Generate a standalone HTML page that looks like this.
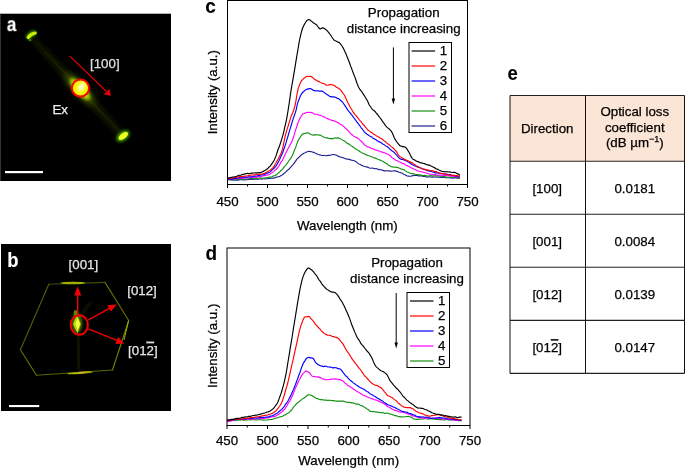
<!DOCTYPE html>
<html><head><meta charset="utf-8"><style>
html,body{margin:0;padding:0;background:#fff;width:685px;height:468px;overflow:hidden}
svg{display:block;will-change:transform}
text{font-family:"Liberation Sans", sans-serif;stroke:#000;stroke-width:0.25px}
</style></head><body>
<svg width="685" height="468" viewBox="0 0 685 468" font-size="13.3">
<defs>
<filter id="blur05" x="-50%" y="-50%" width="200%" height="200%"><feGaussianBlur stdDeviation="0.35"/></filter>
<filter id="blur1" x="-50%" y="-50%" width="200%" height="200%"><feGaussianBlur stdDeviation="0.6"/></filter>
<filter id="blur2" x="-50%" y="-50%" width="200%" height="200%"><feGaussianBlur stdDeviation="1.5"/></filter>
<filter id="blur3" x="-50%" y="-50%" width="200%" height="200%"><feGaussianBlur stdDeviation="3"/></filter>
<filter id="blur4" x="-50%" y="-50%" width="200%" height="200%"><feGaussianBlur stdDeviation="4"/></filter>
</defs>
<rect x="0" y="14" width="1" height="167" fill="#333"/>
<rect x="0" y="13" width="171" height="1" fill="#b0b0b0"/>
<rect x="1" y="14" width="170" height="167" fill="#000"/>
<defs><linearGradient id="rodg" gradientUnits="userSpaceOnUse" x1="32" y1="38" x2="122" y2="135"><stop offset="0" stop-color="#0e1400"/><stop offset="0.3" stop-color="#182000"/><stop offset="0.5" stop-color="#2c3a00"/><stop offset="0.75" stop-color="#1a2200"/><stop offset="1" stop-color="#141a00"/></linearGradient></defs>
<g filter="url(#blur3)"><line x1="32" y1="38" x2="122" y2="135" stroke="url(#rodg)" stroke-width="6"/></g>
<g filter="url(#blur1)"><line x1="36" y1="42" x2="119" y2="131" stroke="url(#rodg)" stroke-width="1.5"/></g>
<g filter="url(#blur3)"><ellipse cx="80" cy="89" rx="20" ry="6" transform="rotate(47 80 89)" fill="#3a5000"/></g>
<g filter="url(#blur2)"><ellipse cx="80" cy="89" rx="14" ry="5" transform="rotate(47 80 89)" fill="#a8cc00"/></g>
<g filter="url(#blur1)"><ellipse cx="80.5" cy="88" rx="8" ry="8" fill="#f4f400"/></g>
<g filter="url(#blur2)"><ellipse cx="81.5" cy="87" rx="3" ry="5" transform="rotate(30 81.5 87)" fill="#ffffd0"/></g>
<g filter="url(#blur2)"><path d="M28,38.5 Q30,33.5 35.5,32.5" stroke="#40a000" stroke-width="5" fill="none"/></g>
<g filter="url(#blur1)"><path d="M28.2,37.5 Q30.5,34 35.2,33" stroke="#c8f000" stroke-width="3.2" fill="none" stroke-linecap="round"/></g>
<g filter="url(#blur1)"><ellipse cx="30" cy="40" rx="1.6" ry="1.2" fill="#3a7000"/></g>
<g filter="url(#blur2)"><ellipse cx="123" cy="136" rx="7.5" ry="4.5" transform="rotate(-36 123 136)" fill="#40a000"/></g>
<g filter="url(#blur1)"><ellipse cx="123.3" cy="136" rx="5.5" ry="2.8" transform="rotate(-36 123.3 136)" fill="#f0ff20"/></g>
<circle cx="80.5" cy="88" r="8.6" fill="none" stroke="#ff0000" stroke-width="2"/>
<line x1="69.6" y1="55.9" x2="106.5" y2="91.5" stroke="#e00000" stroke-width="1.3"/>
<path d="M111,95.8 L103.6,94.6 L109.6,89 Z" fill="#e00000"/>
<text x="90" y="67.7" fill="#e0e0e0" style="stroke:#e0e0e0">[100]</text>
<text x="52.4" y="114" fill="#f0f0f0" style="stroke:#f0f0f0">Ex</text>
<text transform="translate(6.8,31.6) scale(0.9,1.08)" font-weight="bold" font-size="19" fill="#fff" style="stroke:#fff;stroke-width:0.1px">a</text>
<rect x="5" y="171" width="38" height="2.2" fill="#fff"/>
<rect x="1" y="244" width="170" height="167" fill="#000"/>
<g filter="url(#blur05)">
<line x1="48.8" y1="284.3" x2="105" y2="282.4" stroke="#444c00" stroke-width="1.1" stroke-linecap="round"/>
<line x1="105" y1="282.4" x2="128.7" y2="320.5" stroke="#687200" stroke-width="1.1" stroke-linecap="round"/>
<line x1="128.7" y1="320.5" x2="112.5" y2="370" stroke="#788400" stroke-width="1.1" stroke-linecap="round"/>
<line x1="112.5" y1="370" x2="36.4" y2="375.3" stroke="#5a6400" stroke-width="1.1" stroke-linecap="round"/>
<line x1="36.4" y1="375.3" x2="20.4" y2="349.7" stroke="#687200" stroke-width="1.1" stroke-linecap="round"/>
<line x1="20.4" y1="349.7" x2="48.8" y2="284.3" stroke="#56600a" stroke-width="1.1" stroke-linecap="round"/>
</g>
<g filter="url(#blur1)"><ellipse cx="73" cy="283.0" rx="12.5" ry="1.3" fill="#a0b000"/></g>
<g filter="url(#blur1)"><ellipse cx="80" cy="372.8" rx="13" ry="1.15" transform="rotate(-4 80 372.8)" fill="#a8b800"/></g>
<g filter="url(#blur1)"><ellipse cx="82" cy="372.6" rx="4" ry="0.7" transform="rotate(-4 82 372.6)" fill="#e8a830"/></g>
<g filter="url(#blur1)"><line x1="124" y1="340" x2="128.5" y2="321" stroke="#a0b000" stroke-width="1"/></g>
<g filter="url(#blur2)"><line x1="78" y1="334" x2="79" y2="370" stroke="#182000" stroke-width="2.5"/></g>
<g filter="url(#blur2)"><path d="M82,316 Q86,306 92,302" stroke="#182000" stroke-width="2" fill="none"/></g>
<g filter="url(#blur2)"><ellipse cx="77" cy="323" rx="5" ry="10" fill="#5a7800"/></g>
<g filter="url(#blur1)"><ellipse cx="75.5" cy="313" rx="1.8" ry="3" fill="#5a8a00"/></g>
<g filter="url(#blur1)"><path d="M77,315 L80.8,324 L77.5,333.5 L73,324 Z" fill="#b8d800"/></g>
<g filter="url(#blur05)"><path d="M77.5,318 L80,324 L77.5,330 L75.5,324 Z" fill="#f0ff40"/></g>
<ellipse cx="79.3" cy="325" rx="8.6" ry="9.8" fill="none" stroke="#f00000" stroke-width="2"/>
<line x1="77.7" y1="314.5" x2="77.7" y2="294" stroke="#f00000" stroke-width="1.4"/>
<path d="M77.7,286.3 L81.3,295.5 L74.2,295.5 Z" fill="#f00000"/>
<line x1="88.3" y1="319.8" x2="110" y2="308.2" stroke="#f00000" stroke-width="1.4"/>
<path d="M116.7,304.5 L107.3,305.2 L110.9,311.6 Z" fill="#f00000"/>
<line x1="88.3" y1="328.8" x2="117" y2="340.4" stroke="#f00000" stroke-width="1.4"/>
<path d="M124.4,343.5 L115.3,343.9 L118.1,337.0 Z" fill="#f00000"/>
<text x="68.6" y="268.5" fill="#e6e6e6" style="stroke:#e6e6e6">[001]</text>
<text x="127.2" y="295.0" fill="#e6e6e6" style="stroke:#e6e6e6">[012]</text>
<text x="128.1" y="354.8" fill="#e6e6e6" style="stroke:#e6e6e6">[01<tspan text-decoration="overline">2</tspan>]</text>
<text transform="translate(7.3,267) scale(0.97,1.06)" font-weight="bold" font-size="19" fill="#fff" style="stroke:#fff;stroke-width:0.1px">b</text>
<rect x="9" y="405" width="30.2" height="2.1" fill="#fff"/>
<path d="M227.50,179.82 L228.20,179.86 L228.90,179.80 L229.60,179.75 L230.30,179.77 L231.00,179.82 L231.70,180.03 L232.40,180.16 L233.10,180.02 L233.80,179.98 L234.50,180.12 L235.20,180.17 L235.90,180.07 L236.60,179.99 L237.30,180.08 L238.00,180.10 L238.70,179.94 L239.40,179.82 L240.10,179.72 L240.80,179.65 L241.50,179.70 L242.20,179.78 L242.90,179.82 L243.60,179.91 L244.30,179.94 L245.00,179.71 L245.70,179.48 L246.40,179.58 L247.10,179.73 L247.80,179.64 L248.50,179.47 L249.20,179.42 L249.90,179.39 L250.60,179.45 L251.30,179.53 L252.00,179.42 L252.70,179.41 L253.40,179.44 L254.10,179.29 L254.80,179.23 L255.50,179.24 L256.20,179.13 L256.90,179.00 L257.60,179.12 L258.30,179.14 L259.00,178.98 L259.70,179.01 L260.40,178.99 L261.10,178.98 L261.80,179.15 L262.50,179.00 L263.20,178.73 L263.90,178.76 L264.60,178.82 L265.30,178.77 L266.00,178.74 L266.70,178.71 L267.40,178.76 L268.10,178.72 L268.80,178.51 L269.50,178.39 L270.20,178.34 L270.90,178.23 L271.60,178.07 L272.30,178.02 L273.00,178.10 L273.70,178.18 L274.40,178.00 L275.10,177.60 L275.80,177.43 L276.50,177.29 L277.20,176.93 L277.90,176.75 L278.60,176.72 L279.30,176.62 L280.00,176.29 L280.70,175.80 L281.40,175.35 L282.10,175.01 L282.80,174.61 L283.50,173.93 L284.20,173.28 L284.90,172.74 L285.60,172.10 L286.30,171.40 L287.00,170.72 L287.70,170.11 L288.40,169.53 L289.10,168.94 L289.80,168.19 L290.50,167.36 L291.20,166.58 L291.90,165.81 L292.60,165.06 L293.30,164.23 L294.00,163.29 L294.70,162.36 L295.40,161.47 L296.10,160.39 L296.80,159.39 L297.50,158.63 L298.20,157.86 L298.90,157.30 L299.60,156.76 L300.30,155.88 L301.00,155.16 L301.70,154.72 L302.40,154.23 L303.10,153.69 L303.80,153.29 L304.50,153.05 L305.20,152.70 L305.90,152.27 L306.60,152.03 L307.30,151.80 L308.00,151.55 L308.70,151.42 L309.40,151.39 L310.10,151.49 L310.80,151.61 L311.50,151.73 L312.20,151.95 L312.90,152.18 L313.60,152.34 L314.30,152.69 L315.00,153.04 L315.70,153.28 L316.40,153.62 L317.10,153.92 L317.80,154.25 L318.50,154.56 L319.20,154.84 L319.90,154.94 L320.60,154.99 L321.30,155.35 L322.00,155.55 L322.70,155.46 L323.40,155.43 L324.10,155.45 L324.80,155.55 L325.50,155.70 L326.20,155.68 L326.90,155.61 L327.60,155.53 L328.30,155.37 L329.00,155.32 L329.70,155.35 L330.40,155.22 L331.10,155.04 L331.80,154.79 L332.50,154.55 L333.20,154.48 L333.90,154.54 L334.60,154.68 L335.30,154.87 L336.00,155.04 L336.70,155.23 L337.40,155.71 L338.10,156.22 L338.80,156.37 L339.50,156.54 L340.20,157.00 L340.90,157.28 L341.60,157.31 L342.30,157.50 L343.00,157.69 L343.70,157.91 L344.40,158.34 L345.10,158.62 L345.80,158.75 L346.50,158.92 L347.20,159.14 L347.90,159.27 L348.60,159.35 L349.30,159.39 L350.00,159.61 L350.70,159.95 L351.40,160.08 L352.10,160.20 L352.80,160.36 L353.50,160.48 L354.20,160.74 L354.90,161.07 L355.60,161.38 L356.30,161.81 L357.00,162.44 L357.70,163.12 L358.40,163.66 L359.10,164.04 L359.80,164.27 L360.50,164.58 L361.20,165.13 L361.90,165.49 L362.60,165.67 L363.30,165.97 L364.00,166.29 L364.70,166.55 L365.40,166.70 L366.10,166.87 L366.80,167.06 L367.50,167.16 L368.20,167.41 L368.90,167.69 L369.60,167.95 L370.30,168.23 L371.00,168.22 L371.70,167.98 L372.40,168.03 L373.10,168.33 L373.80,168.44 L374.50,168.63 L375.20,168.77 L375.90,168.61 L376.60,168.68 L377.30,169.06 L378.00,169.31 L378.70,169.44 L379.40,169.58 L380.10,169.64 L380.80,169.77 L381.50,170.04 L382.20,170.16 L382.90,170.33 L383.60,170.67 L384.30,170.88 L385.00,170.91 L385.70,170.84 L386.40,170.79 L387.10,170.78 L387.80,170.84 L388.50,170.92 L389.20,170.94 L389.90,171.02 L390.60,171.19 L391.30,171.19 L392.00,171.01 L392.70,171.02 L393.40,171.04 L394.10,170.90 L394.80,170.79 L395.50,170.91 L396.20,171.18 L396.90,171.34 L397.60,171.53 L398.30,171.88 L399.00,172.29 L399.70,172.44 L400.40,172.53 L401.10,172.84 L401.80,172.99 L402.50,173.19 L403.20,173.88 L403.90,174.53 L404.60,174.76 L405.30,174.88 L406.00,175.29 L406.70,175.79 L407.40,176.02 L408.10,176.11 L408.80,176.19 L409.50,176.24 L410.20,176.28 L410.90,176.20 L411.60,175.96 L412.30,175.77 L413.00,175.69 L413.70,175.63 L414.40,175.53 L415.10,175.35 L415.80,175.31 L416.50,175.31 L417.20,175.38 L417.90,175.72 L418.60,175.84 L419.30,175.76 L420.00,175.89 L420.70,175.86 L421.40,175.77 L422.10,176.05 L422.80,176.33 L423.50,176.38 L424.20,176.41 L424.90,176.54 L425.60,176.77 L426.30,176.94 L427.00,176.93 L427.70,176.96 L428.40,177.02 L429.10,176.89 L429.80,176.70 L430.50,176.76 L431.20,177.07 L431.90,177.22 L432.60,177.17 L433.30,177.12 L434.00,177.05 L434.70,177.01 L435.40,176.97 L436.10,176.98 L436.80,177.12 L437.50,177.28 L438.20,177.24 L438.90,177.09 L439.60,177.02 L440.30,177.16 L441.00,177.42 L441.70,177.45 L442.40,177.36 L443.10,177.30 L443.80,177.32 L444.50,177.53 L445.20,177.71 L445.90,177.69 L446.60,177.69 L447.30,177.79 L448.00,177.78 L448.70,177.72 L449.40,177.78 L450.10,177.92 L450.80,178.01 L451.50,178.00 L452.20,178.12 L452.90,178.21 L453.60,178.02 L454.30,177.92 L455.00,177.99 L455.70,177.95 L456.40,177.90 L457.10,178.12 L457.80,178.26 L458.50,178.08 L459.20,177.89 L459.90,177.86" fill="none" stroke="#20208e" stroke-width="1.15" stroke-linejoin="round"/>
<path d="M227.50,179.56 L228.20,179.38 L228.90,179.43 L229.60,179.58 L230.30,179.56 L231.00,179.68 L231.70,179.76 L232.40,179.62 L233.10,179.65 L233.80,179.68 L234.50,179.45 L235.20,179.20 L235.90,179.14 L236.60,179.33 L237.30,179.54 L238.00,179.41 L238.70,179.12 L239.40,179.01 L240.10,179.08 L240.80,179.14 L241.50,179.12 L242.20,179.12 L242.90,179.09 L243.60,179.00 L244.30,178.98 L245.00,178.98 L245.70,178.96 L246.40,179.07 L247.10,179.17 L247.80,179.03 L248.50,178.74 L249.20,178.58 L249.90,178.55 L250.60,178.39 L251.30,178.42 L252.00,178.69 L252.70,178.72 L253.40,178.47 L254.10,178.28 L254.80,178.29 L255.50,178.39 L256.20,178.60 L256.90,178.73 L257.60,178.48 L258.30,178.17 L259.00,178.09 L259.70,178.16 L260.40,178.12 L261.10,178.03 L261.80,178.00 L262.50,178.02 L263.20,178.17 L263.90,178.25 L264.60,178.10 L265.30,177.91 L266.00,177.83 L266.70,177.72 L267.40,177.58 L268.10,177.43 L268.80,177.20 L269.50,177.13 L270.20,177.18 L270.90,177.04 L271.60,176.87 L272.30,176.59 L273.00,176.11 L273.70,175.85 L274.40,175.76 L275.10,175.49 L275.80,175.13 L276.50,174.76 L277.20,174.14 L277.90,173.35 L278.60,172.78 L279.30,172.33 L280.00,171.57 L280.70,170.77 L281.40,170.29 L282.10,169.71 L282.80,168.86 L283.50,167.87 L284.20,166.86 L284.90,166.10 L285.60,165.44 L286.30,164.54 L287.00,163.56 L287.70,162.56 L288.40,161.51 L289.10,160.49 L289.80,159.64 L290.50,158.71 L291.20,157.52 L291.90,156.34 L292.60,154.81 L293.30,152.99 L294.00,151.26 L294.70,149.62 L295.40,147.96 L296.10,146.09 L296.80,144.17 L297.50,142.32 L298.20,140.53 L298.90,139.06 L299.60,138.10 L300.30,137.06 L301.00,135.89 L301.70,134.99 L302.40,134.25 L303.10,133.77 L303.80,133.62 L304.50,133.48 L305.20,133.33 L305.90,133.10 L306.60,132.96 L307.30,132.86 L308.00,132.84 L308.70,133.15 L309.40,133.61 L310.10,134.12 L310.80,134.50 L311.50,134.74 L312.20,134.92 L312.90,135.06 L313.60,135.07 L314.30,134.94 L315.00,134.83 L315.70,134.82 L316.40,134.91 L317.10,134.79 L317.80,134.70 L318.50,134.95 L319.20,135.11 L319.90,135.08 L320.60,135.27 L321.30,135.67 L322.00,136.12 L322.70,136.60 L323.40,136.92 L324.10,137.25 L324.80,137.56 L325.50,137.71 L326.20,137.84 L326.90,137.88 L327.60,137.86 L328.30,138.13 L329.00,138.52 L329.70,138.60 L330.40,138.58 L331.10,138.62 L331.80,138.61 L332.50,138.68 L333.20,138.65 L333.90,138.28 L334.60,137.96 L335.30,137.88 L336.00,137.92 L336.70,138.10 L337.40,138.09 L338.10,137.87 L338.80,137.93 L339.50,138.41 L340.20,138.77 L340.90,138.94 L341.60,139.37 L342.30,139.87 L343.00,140.30 L343.70,140.65 L344.40,141.00 L345.10,141.41 L345.80,142.05 L346.50,142.84 L347.20,143.34 L347.90,143.61 L348.60,143.88 L349.30,144.28 L350.00,144.88 L350.70,145.47 L351.40,145.95 L352.10,146.34 L352.80,146.73 L353.50,147.26 L354.20,147.87 L354.90,148.54 L355.60,149.05 L356.30,149.28 L357.00,149.62 L357.70,150.12 L358.40,150.57 L359.10,151.02 L359.80,151.46 L360.50,151.89 L361.20,152.38 L361.90,152.80 L362.60,153.14 L363.30,153.43 L364.00,153.67 L364.70,153.99 L365.40,154.37 L366.10,154.74 L366.80,155.11 L367.50,155.34 L368.20,155.52 L368.90,155.80 L369.60,156.01 L370.30,156.29 L371.00,156.51 L371.70,156.69 L372.40,157.10 L373.10,157.48 L373.80,157.69 L374.50,157.90 L375.20,158.12 L375.90,158.35 L376.60,158.64 L377.30,158.95 L378.00,159.20 L378.70,159.43 L379.40,159.80 L380.10,160.14 L380.80,160.37 L381.50,160.67 L382.20,160.96 L382.90,161.20 L383.60,161.69 L384.30,162.22 L385.00,162.67 L385.70,163.10 L386.40,163.50 L387.10,164.03 L387.80,164.65 L388.50,165.14 L389.20,165.43 L389.90,165.73 L390.60,166.26 L391.30,166.74 L392.00,166.93 L392.70,166.90 L393.40,166.94 L394.10,167.21 L394.80,167.21 L395.50,167.14 L396.20,167.35 L396.90,167.43 L397.60,167.50 L398.30,167.84 L399.00,168.17 L399.70,168.29 L400.40,168.55 L401.10,169.01 L401.80,169.26 L402.50,169.37 L403.20,169.54 L403.90,169.83 L404.60,170.31 L405.30,170.88 L406.00,171.33 L406.70,171.73 L407.40,172.07 L408.10,172.28 L408.80,172.59 L409.50,172.96 L410.20,173.24 L410.90,173.47 L411.60,173.57 L412.30,173.68 L413.00,173.82 L413.70,173.82 L414.40,173.95 L415.10,174.29 L415.80,174.50 L416.50,174.49 L417.20,174.46 L417.90,174.61 L418.60,174.76 L419.30,174.73 L420.00,174.77 L420.70,175.10 L421.40,175.43 L422.10,175.47 L422.80,175.43 L423.50,175.56 L424.20,175.53 L424.90,175.35 L425.60,175.53 L426.30,175.80 L427.00,175.93 L427.70,176.03 L428.40,175.97 L429.10,175.83 L429.80,175.81 L430.50,175.78 L431.20,175.68 L431.90,175.72 L432.60,175.93 L433.30,175.99 L434.00,175.80 L434.70,175.70 L435.40,175.81 L436.10,175.88 L436.80,175.87 L437.50,175.83 L438.20,175.70 L438.90,175.70 L439.60,175.89 L440.30,176.13 L441.00,176.17 L441.70,176.03 L442.40,176.15 L443.10,176.41 L443.80,176.44 L444.50,176.56 L445.20,176.90 L445.90,177.10 L446.60,177.08 L447.30,177.12 L448.00,177.21 L448.70,177.26 L449.40,177.26 L450.10,177.13 L450.80,177.11 L451.50,177.22 L452.20,177.29 L452.90,177.41 L453.60,177.39 L454.30,177.31 L455.00,177.35 L455.70,177.46 L456.40,177.51 L457.10,177.42 L457.80,177.47 L458.50,177.76 L459.20,177.98 L459.90,177.89" fill="none" stroke="#119011" stroke-width="1.15" stroke-linejoin="round"/>
<path d="M227.50,179.42 L228.20,179.48 L228.90,179.51 L229.60,179.28 L230.30,179.09 L231.00,179.15 L231.70,179.13 L232.40,178.89 L233.10,178.67 L233.80,178.72 L234.50,178.85 L235.20,178.79 L235.90,178.75 L236.60,178.80 L237.30,178.76 L238.00,178.66 L238.70,178.56 L239.40,178.41 L240.10,178.29 L240.80,178.31 L241.50,178.41 L242.20,178.29 L242.90,178.09 L243.60,178.04 L244.30,178.08 L245.00,178.00 L245.70,177.74 L246.40,177.64 L247.10,177.87 L247.80,178.12 L248.50,177.97 L249.20,177.73 L249.90,177.79 L250.60,177.80 L251.30,177.53 L252.00,177.40 L252.70,177.49 L253.40,177.44 L254.10,177.28 L254.80,177.23 L255.50,177.38 L256.20,177.36 L256.90,177.13 L257.60,176.83 L258.30,176.58 L259.00,176.61 L259.70,176.62 L260.40,176.56 L261.10,176.46 L261.80,176.16 L262.50,175.94 L263.20,175.92 L263.90,175.80 L264.60,175.61 L265.30,175.45 L266.00,175.15 L266.70,174.93 L267.40,174.97 L268.10,174.88 L268.80,174.72 L269.50,174.48 L270.20,173.88 L270.90,173.27 L271.60,172.89 L272.30,172.53 L273.00,172.15 L273.70,171.59 L274.40,170.91 L275.10,170.30 L275.80,169.64 L276.50,168.99 L277.20,168.27 L277.90,167.36 L278.60,166.35 L279.30,165.20 L280.00,163.91 L280.70,162.65 L281.40,161.64 L282.10,160.73 L282.80,159.54 L283.50,158.08 L284.20,156.47 L284.90,154.95 L285.60,153.59 L286.30,152.09 L287.00,150.56 L287.70,149.20 L288.40,147.92 L289.10,146.67 L289.80,145.39 L290.50,144.06 L291.20,142.90 L291.90,141.65 L292.60,139.87 L293.30,137.75 L294.00,135.56 L294.70,133.14 L295.40,130.70 L296.10,128.59 L296.80,126.48 L297.50,124.24 L298.20,122.22 L298.90,120.49 L299.60,118.96 L300.30,117.60 L301.00,116.52 L301.70,115.48 L302.40,114.39 L303.10,113.71 L303.80,113.49 L304.50,113.32 L305.20,113.15 L305.90,112.82 L306.60,112.46 L307.30,112.40 L308.00,112.37 L308.70,112.37 L309.40,112.48 L310.10,112.41 L310.80,112.40 L311.50,112.61 L312.20,112.77 L312.90,113.06 L313.60,113.48 L314.30,113.90 L315.00,114.23 L315.70,114.27 L316.40,114.28 L317.10,114.48 L317.80,114.68 L318.50,114.90 L319.20,115.19 L319.90,115.24 L320.60,115.34 L321.30,115.73 L322.00,116.02 L322.70,116.24 L323.40,116.55 L324.10,116.88 L324.80,117.27 L325.50,117.71 L326.20,118.08 L326.90,118.41 L327.60,118.67 L328.30,118.88 L329.00,119.23 L329.70,119.60 L330.40,119.81 L331.10,120.06 L331.80,120.47 L332.50,120.60 L333.20,120.53 L333.90,120.70 L334.60,121.11 L335.30,121.45 L336.00,121.72 L336.70,122.03 L337.40,122.38 L338.10,122.73 L338.80,123.04 L339.50,123.48 L340.20,124.15 L340.90,124.62 L341.60,124.79 L342.30,125.17 L343.00,125.86 L343.70,126.57 L344.40,127.14 L345.10,127.81 L345.80,128.53 L346.50,129.10 L347.20,129.78 L347.90,130.48 L348.60,131.10 L349.30,131.91 L350.00,132.86 L350.70,133.70 L351.40,134.27 L352.10,134.74 L352.80,135.43 L353.50,136.13 L354.20,136.56 L354.90,136.81 L355.60,137.14 L356.30,137.58 L357.00,137.86 L357.70,138.13 L358.40,138.71 L359.10,139.42 L359.80,140.02 L360.50,140.59 L361.20,141.22 L361.90,141.92 L362.60,142.59 L363.30,143.46 L364.00,144.43 L364.70,144.98 L365.40,145.37 L366.10,145.92 L366.80,146.50 L367.50,146.89 L368.20,146.98 L368.90,147.09 L369.60,147.48 L370.30,147.86 L371.00,148.19 L371.70,148.51 L372.40,148.72 L373.10,148.83 L373.80,148.99 L374.50,149.46 L375.20,149.91 L375.90,150.05 L376.60,150.16 L377.30,150.47 L378.00,150.76 L378.70,150.83 L379.40,151.06 L380.10,151.46 L380.80,151.72 L381.50,151.89 L382.20,152.12 L382.90,152.35 L383.60,152.58 L384.30,152.74 L385.00,152.91 L385.70,153.30 L386.40,153.64 L387.10,153.80 L387.80,154.15 L388.50,154.57 L389.20,154.93 L389.90,155.41 L390.60,156.02 L391.30,156.87 L392.00,157.73 L392.70,158.21 L393.40,158.54 L394.10,159.02 L394.80,159.48 L395.50,159.95 L396.20,160.34 L396.90,160.60 L397.60,161.00 L398.30,161.44 L399.00,161.81 L399.70,162.02 L400.40,162.23 L401.10,162.65 L401.80,163.06 L402.50,163.38 L403.20,163.68 L403.90,163.83 L404.60,164.11 L405.30,164.72 L406.00,165.20 L406.70,165.47 L407.40,165.83 L408.10,166.21 L408.80,166.41 L409.50,166.67 L410.20,167.17 L410.90,167.59 L411.60,167.90 L412.30,168.32 L413.00,168.60 L413.70,168.93 L414.40,169.45 L415.10,169.68 L415.80,169.79 L416.50,170.18 L417.20,170.67 L417.90,170.92 L418.60,171.01 L419.30,171.26 L420.00,171.47 L420.70,171.59 L421.40,171.80 L422.10,171.97 L422.80,172.07 L423.50,172.26 L424.20,172.51 L424.90,172.67 L425.60,172.78 L426.30,173.02 L427.00,173.34 L427.70,173.53 L428.40,173.74 L429.10,173.94 L429.80,174.14 L430.50,174.26 L431.20,174.22 L431.90,174.28 L432.60,174.49 L433.30,174.78 L434.00,174.75 L434.70,174.43 L435.40,174.50 L436.10,174.84 L436.80,175.01 L437.50,175.02 L438.20,175.00 L438.90,175.08 L439.60,175.15 L440.30,175.19 L441.00,175.13 L441.70,175.02 L442.40,175.13 L443.10,175.28 L443.80,175.41 L444.50,175.41 L445.20,175.40 L445.90,175.51 L446.60,175.49 L447.30,175.44 L448.00,175.53 L448.70,175.78 L449.40,176.05 L450.10,176.15 L450.80,176.18 L451.50,176.27 L452.20,176.28 L452.90,176.32 L453.60,176.50 L454.30,176.60 L455.00,176.54 L455.70,176.55 L456.40,176.66 L457.10,176.71 L457.80,176.81 L458.50,176.98 L459.20,177.06 L459.90,177.13" fill="none" stroke="#ff00ff" stroke-width="1.15" stroke-linejoin="round"/>
<path d="M227.50,179.02 L228.20,179.07 L228.90,179.04 L229.60,179.04 L230.30,179.13 L231.00,179.11 L231.70,179.07 L232.40,178.89 L233.10,178.59 L233.80,178.51 L234.50,178.54 L235.20,178.48 L235.90,178.36 L236.60,178.16 L237.30,177.97 L238.00,177.88 L238.70,177.82 L239.40,177.88 L240.10,177.83 L240.80,177.71 L241.50,177.73 L242.20,177.64 L242.90,177.36 L243.60,177.17 L244.30,177.10 L245.00,177.00 L245.70,177.15 L246.40,177.29 L247.10,177.14 L247.80,176.98 L248.50,176.86 L249.20,176.82 L249.90,176.78 L250.60,176.73 L251.30,176.81 L252.00,176.82 L252.70,176.60 L253.40,176.34 L254.10,176.20 L254.80,176.18 L255.50,176.15 L256.20,176.07 L256.90,176.03 L257.60,175.86 L258.30,175.49 L259.00,175.42 L259.70,175.47 L260.40,175.23 L261.10,174.99 L261.80,174.81 L262.50,174.64 L263.20,174.72 L263.90,174.83 L264.60,174.46 L265.30,173.88 L266.00,173.55 L266.70,173.44 L267.40,173.24 L268.10,172.80 L268.80,172.47 L269.50,172.30 L270.20,171.88 L270.90,171.18 L271.60,170.42 L272.30,169.77 L273.00,169.09 L273.70,168.44 L274.40,167.87 L275.10,167.07 L275.80,166.21 L276.50,165.32 L277.20,164.02 L277.90,162.63 L278.60,161.52 L279.30,160.24 L280.00,158.59 L280.70,157.02 L281.40,155.48 L282.10,153.94 L282.80,152.29 L283.50,150.27 L284.20,148.27 L284.90,146.30 L285.60,144.11 L286.30,141.81 L287.00,139.44 L287.70,137.12 L288.40,134.75 L289.10,132.22 L289.80,129.87 L290.50,127.60 L291.20,125.32 L291.90,122.98 L292.60,120.59 L293.30,118.42 L294.00,116.52 L294.70,114.51 L295.40,112.40 L296.10,110.07 L296.80,106.98 L297.50,103.66 L298.20,101.40 L298.90,99.84 L299.60,98.03 L300.30,96.29 L301.00,94.83 L301.70,93.64 L302.40,92.72 L303.10,92.03 L303.80,91.44 L304.50,90.80 L305.20,90.17 L305.90,89.72 L306.60,89.41 L307.30,89.11 L308.00,88.93 L308.70,88.84 L309.40,88.68 L310.10,88.62 L310.80,88.79 L311.50,89.12 L312.20,89.54 L312.90,90.04 L313.60,90.43 L314.30,90.61 L315.00,90.81 L315.70,90.81 L316.40,90.70 L317.10,90.72 L317.80,90.82 L318.50,90.93 L319.20,91.08 L319.90,91.22 L320.60,91.11 L321.30,91.01 L322.00,91.17 L322.70,91.40 L323.40,91.90 L324.10,92.54 L324.80,92.92 L325.50,93.20 L326.20,93.82 L326.90,94.54 L327.60,94.90 L328.30,95.25 L329.00,95.86 L329.70,96.40 L330.40,96.60 L331.10,96.66 L331.80,96.82 L332.50,96.92 L333.20,96.87 L333.90,96.91 L334.60,97.07 L335.30,97.23 L336.00,97.49 L336.70,97.98 L337.40,98.39 L338.10,98.55 L338.80,98.85 L339.50,99.39 L340.20,100.02 L340.90,100.69 L341.60,101.27 L342.30,101.93 L343.00,102.75 L343.70,103.79 L344.40,104.91 L345.10,105.87 L345.80,106.81 L346.50,107.94 L347.20,109.16 L347.90,110.22 L348.60,111.11 L349.30,111.91 L350.00,112.65 L350.70,113.67 L351.40,114.68 L352.10,115.37 L352.80,116.30 L353.50,117.37 L354.20,118.25 L354.90,119.17 L355.60,120.20 L356.30,121.21 L357.00,122.05 L357.70,122.87 L358.40,123.85 L359.10,124.78 L359.80,125.71 L360.50,126.76 L361.20,127.79 L361.90,128.67 L362.60,129.49 L363.30,130.47 L364.00,131.43 L364.70,132.26 L365.40,132.95 L366.10,133.46 L366.80,134.05 L367.50,134.60 L368.20,135.00 L368.90,135.49 L369.60,135.95 L370.30,136.26 L371.00,136.56 L371.70,137.03 L372.40,137.65 L373.10,138.23 L373.80,138.65 L374.50,138.95 L375.20,139.26 L375.90,139.68 L376.60,140.18 L377.30,140.66 L378.00,141.23 L378.70,141.74 L379.40,141.92 L380.10,142.10 L380.80,142.48 L381.50,142.90 L382.20,143.47 L382.90,144.15 L383.60,144.48 L384.30,144.75 L385.00,145.37 L385.70,145.92 L386.40,146.19 L387.10,146.54 L387.80,147.09 L388.50,147.73 L389.20,148.39 L389.90,149.05 L390.60,149.68 L391.30,150.30 L392.00,150.91 L392.70,151.33 L393.40,151.75 L394.10,152.47 L394.80,153.23 L395.50,153.92 L396.20,154.71 L396.90,155.39 L397.60,156.19 L398.30,157.17 L399.00,157.90 L399.70,158.43 L400.40,158.95 L401.10,159.31 L401.80,159.35 L402.50,159.32 L403.20,159.61 L403.90,159.93 L404.60,160.16 L405.30,160.55 L406.00,160.88 L406.70,160.97 L407.40,161.30 L408.10,161.91 L408.80,162.22 L409.50,162.58 L410.20,163.27 L410.90,163.85 L411.60,164.31 L412.30,164.77 L413.00,165.02 L413.70,165.26 L414.40,165.70 L415.10,166.02 L415.80,166.19 L416.50,166.43 L417.20,166.86 L417.90,167.21 L418.60,167.32 L419.30,167.52 L420.00,167.72 L420.70,167.94 L421.40,168.32 L422.10,168.69 L422.80,168.95 L423.50,169.07 L424.20,169.16 L424.90,169.43 L425.60,169.82 L426.30,170.19 L427.00,170.47 L427.70,170.67 L428.40,170.96 L429.10,171.20 L429.80,171.18 L430.50,171.13 L431.20,171.26 L431.90,171.63 L432.60,172.03 L433.30,172.21 L434.00,172.42 L434.70,172.68 L435.40,172.86 L436.10,172.89 L436.80,172.81 L437.50,172.86 L438.20,172.99 L438.90,173.08 L439.60,173.13 L440.30,173.35 L441.00,173.48 L441.70,173.39 L442.40,173.47 L443.10,173.63 L443.80,173.84 L444.50,174.04 L445.20,174.13 L445.90,174.14 L446.60,174.17 L447.30,174.37 L448.00,174.51 L448.70,174.64 L449.40,174.61 L450.10,174.46 L450.80,174.70 L451.50,175.15 L452.20,175.43 L452.90,175.48 L453.60,175.43 L454.30,175.54 L455.00,175.95 L455.70,176.21 L456.40,176.14 L457.10,176.06 L457.80,176.17 L458.50,176.67 L459.20,177.08 L459.90,177.06" fill="none" stroke="#0000ff" stroke-width="1.15" stroke-linejoin="round"/>
<path d="M227.50,178.79 L228.20,178.60 L228.90,178.42 L229.60,178.37 L230.30,178.17 L231.00,178.07 L231.70,178.15 L232.40,178.13 L233.10,178.02 L233.80,177.82 L234.50,177.55 L235.20,177.40 L235.90,177.39 L236.60,177.24 L237.30,177.03 L238.00,176.95 L238.70,176.86 L239.40,176.67 L240.10,176.53 L240.80,176.54 L241.50,176.66 L242.20,176.80 L242.90,176.69 L243.60,176.30 L244.30,176.17 L245.00,176.24 L245.70,176.07 L246.40,176.00 L247.10,176.00 L247.80,175.70 L248.50,175.35 L249.20,175.27 L249.90,175.35 L250.60,175.24 L251.30,174.95 L252.00,174.89 L252.70,175.02 L253.40,174.96 L254.10,174.82 L254.80,174.83 L255.50,174.69 L256.20,174.43 L256.90,174.45 L257.60,174.51 L258.30,174.27 L259.00,174.06 L259.70,174.17 L260.40,174.38 L261.10,174.21 L261.80,173.97 L262.50,173.95 L263.20,173.71 L263.90,173.52 L264.60,173.39 L265.30,173.02 L266.00,172.49 L266.70,172.04 L267.40,171.73 L268.10,171.18 L268.80,170.79 L269.50,170.74 L270.20,170.36 L270.90,169.62 L271.60,168.88 L272.30,168.34 L273.00,167.79 L273.70,166.87 L274.40,165.65 L275.10,164.41 L275.80,163.20 L276.50,161.85 L277.20,160.68 L277.90,159.57 L278.60,158.20 L279.30,156.76 L280.00,155.42 L280.70,154.10 L281.40,152.47 L282.10,150.46 L282.80,147.87 L283.50,144.46 L284.20,140.94 L284.90,137.66 L285.60,134.74 L286.30,132.07 L287.00,129.61 L287.70,127.44 L288.40,125.28 L289.10,122.90 L289.80,120.61 L290.50,118.34 L291.20,116.16 L291.90,114.42 L292.60,113.00 L293.30,111.32 L294.00,109.06 L294.70,106.58 L295.40,103.76 L296.10,99.84 L296.80,95.52 L297.50,91.50 L298.20,88.59 L298.90,86.59 L299.60,84.75 L300.30,83.10 L301.00,81.73 L301.70,80.65 L302.40,79.80 L303.10,79.09 L303.80,78.45 L304.50,77.94 L305.20,77.41 L305.90,76.82 L306.60,76.48 L307.30,76.41 L308.00,76.49 L308.70,76.52 L309.40,76.31 L310.10,76.21 L310.80,76.39 L311.50,76.73 L312.20,77.33 L312.90,77.72 L313.60,78.24 L314.30,79.22 L315.00,79.73 L315.70,79.89 L316.40,80.33 L317.10,80.82 L317.80,81.15 L318.50,81.38 L319.20,81.74 L319.90,82.17 L320.60,82.50 L321.30,82.76 L322.00,83.06 L322.70,83.35 L323.40,83.54 L324.10,83.78 L324.80,84.09 L325.50,84.63 L326.20,85.18 L326.90,85.30 L327.60,85.27 L328.30,85.11 L329.00,84.83 L329.70,84.68 L330.40,84.56 L331.10,84.56 L331.80,84.74 L332.50,84.90 L333.20,84.99 L333.90,85.29 L334.60,85.78 L335.30,86.26 L336.00,86.86 L336.70,87.46 L337.40,87.76 L338.10,88.06 L338.80,88.53 L339.50,89.05 L340.20,89.66 L340.90,90.42 L341.60,91.30 L342.30,92.30 L343.00,93.32 L343.70,94.28 L344.40,95.25 L345.10,96.57 L345.80,98.19 L346.50,99.78 L347.20,101.29 L347.90,102.73 L348.60,104.00 L349.30,105.20 L350.00,106.65 L350.70,108.00 L351.40,109.02 L352.10,110.28 L352.80,111.52 L353.50,112.45 L354.20,113.45 L354.90,114.37 L355.60,115.16 L356.30,116.00 L357.00,116.80 L357.70,117.62 L358.40,118.53 L359.10,119.47 L359.80,120.39 L360.50,121.13 L361.20,121.92 L361.90,122.97 L362.60,123.85 L363.30,124.51 L364.00,125.25 L364.70,126.17 L365.40,127.17 L366.10,127.92 L366.80,128.56 L367.50,129.54 L368.20,130.29 L368.90,130.58 L369.60,131.15 L370.30,131.74 L371.00,132.24 L371.70,132.73 L372.40,133.06 L373.10,133.63 L373.80,134.25 L374.50,134.58 L375.20,134.93 L375.90,135.39 L376.60,135.91 L377.30,136.40 L378.00,136.74 L378.70,137.10 L379.40,137.50 L380.10,138.00 L380.80,138.33 L381.50,138.60 L382.20,139.19 L382.90,139.76 L383.60,140.40 L384.30,141.04 L385.00,141.35 L385.70,141.88 L386.40,142.66 L387.10,143.29 L387.80,143.87 L388.50,144.28 L389.20,144.66 L389.90,145.33 L390.60,146.09 L391.30,146.65 L392.00,147.11 L392.70,147.66 L393.40,148.25 L394.10,149.01 L394.80,149.89 L395.50,150.51 L396.20,151.23 L396.90,152.38 L397.60,153.67 L398.30,154.77 L399.00,155.62 L399.70,156.38 L400.40,156.92 L401.10,157.23 L401.80,157.69 L402.50,158.24 L403.20,158.57 L403.90,158.94 L404.60,159.36 L405.30,159.62 L406.00,159.98 L406.70,160.45 L407.40,160.67 L408.10,160.85 L408.80,161.24 L409.50,161.54 L410.20,161.79 L410.90,162.20 L411.60,162.54 L412.30,162.87 L413.00,163.46 L413.70,164.04 L414.40,164.43 L415.10,164.82 L415.80,165.37 L416.50,165.91 L417.20,166.27 L417.90,166.63 L418.60,167.05 L419.30,167.35 L420.00,167.81 L420.70,168.26 L421.40,168.40 L422.10,168.67 L422.80,169.06 L423.50,169.23 L424.20,169.42 L424.90,169.76 L425.60,169.89 L426.30,169.77 L427.00,169.86 L427.70,170.03 L428.40,170.11 L429.10,170.22 L429.80,170.38 L430.50,170.52 L431.20,170.58 L431.90,170.73 L432.60,170.85 L433.30,170.89 L434.00,171.16 L434.70,171.50 L435.40,171.59 L436.10,171.67 L436.80,171.89 L437.50,172.17 L438.20,172.57 L438.90,172.87 L439.60,172.97 L440.30,173.22 L441.00,173.49 L441.70,173.55 L442.40,173.59 L443.10,173.62 L443.80,173.71 L444.50,174.04 L445.20,174.35 L445.90,174.29 L446.60,174.22 L447.30,174.34 L448.00,174.55 L448.70,174.75 L449.40,174.97 L450.10,175.16 L450.80,175.23 L451.50,175.30 L452.20,175.35 L452.90,175.29 L453.60,175.24 L454.30,175.37 L455.00,175.55 L455.70,175.50 L456.40,175.54 L457.10,175.81 L457.80,175.92 L458.50,175.94 L459.20,176.04 L459.90,176.16" fill="none" stroke="#ff0000" stroke-width="1.15" stroke-linejoin="round"/>
<path d="M227.50,178.27 L228.20,177.95 L228.90,177.81 L229.60,177.82 L230.30,177.69 L231.00,177.44 L231.70,177.21 L232.40,177.05 L233.10,177.05 L233.80,176.96 L234.50,176.76 L235.20,176.74 L235.90,176.57 L236.60,176.28 L237.30,176.05 L238.00,175.67 L238.70,175.34 L239.40,175.26 L240.10,175.21 L240.80,175.08 L241.50,174.91 L242.20,174.65 L242.90,174.39 L243.60,174.29 L244.30,174.09 L245.00,173.93 L245.70,173.82 L246.40,173.60 L247.10,173.44 L247.80,173.44 L248.50,173.54 L249.20,173.60 L249.90,173.47 L250.60,173.23 L251.30,173.09 L252.00,173.11 L252.70,173.06 L253.40,172.98 L254.10,173.05 L254.80,172.95 L255.50,172.79 L256.20,172.88 L256.90,172.92 L257.60,172.84 L258.30,172.75 L259.00,172.65 L259.70,172.63 L260.40,172.49 L261.10,172.29 L261.80,172.16 L262.50,171.87 L263.20,171.41 L263.90,170.95 L264.60,170.62 L265.30,170.22 L266.00,169.69 L266.70,169.30 L267.40,168.84 L268.10,168.06 L268.80,167.23 L269.50,166.70 L270.20,166.11 L270.90,165.22 L271.60,164.19 L272.30,163.13 L273.00,162.19 L273.70,161.09 L274.40,159.64 L275.10,158.01 L275.80,156.38 L276.50,154.44 L277.20,152.23 L277.90,150.04 L278.60,148.24 L279.30,146.56 L280.00,144.48 L280.70,142.34 L281.40,140.19 L282.10,137.89 L282.80,135.63 L283.50,133.00 L284.20,129.82 L284.90,126.70 L285.60,123.81 L286.30,120.58 L287.00,116.85 L287.70,112.73 L288.40,108.29 L289.10,103.74 L289.80,99.06 L290.50,94.03 L291.20,89.35 L291.90,85.27 L292.60,81.46 L293.30,77.42 L294.00,73.19 L294.70,69.13 L295.40,64.95 L296.10,60.45 L296.80,56.05 L297.50,52.10 L298.20,48.00 L298.90,43.66 L299.60,39.75 L300.30,36.53 L301.00,33.65 L301.70,30.99 L302.40,28.80 L303.10,27.00 L303.80,25.48 L304.50,24.16 L305.20,23.05 L305.90,21.97 L306.60,20.88 L307.30,20.21 L308.00,19.79 L308.70,19.58 L309.40,19.70 L310.10,19.99 L310.80,20.60 L311.50,21.39 L312.20,21.85 L312.90,22.32 L313.60,23.02 L314.30,23.50 L315.00,23.85 L315.70,24.24 L316.40,24.74 L317.10,25.45 L317.80,26.51 L318.50,27.50 L319.20,28.29 L319.90,28.92 L320.60,28.85 L321.30,28.44 L322.00,28.14 L322.70,27.84 L323.40,27.93 L324.10,28.37 L324.80,28.73 L325.50,29.18 L326.20,29.83 L326.90,30.46 L327.60,31.17 L328.30,32.02 L329.00,32.96 L329.70,33.93 L330.40,34.75 L331.10,35.77 L331.80,37.01 L332.50,37.99 L333.20,38.98 L333.90,39.98 L334.60,40.46 L335.30,40.74 L336.00,41.08 L336.70,41.36 L337.40,41.80 L338.10,42.15 L338.80,42.33 L339.50,42.81 L340.20,43.65 L340.90,44.52 L341.60,45.49 L342.30,46.53 L343.00,47.55 L343.70,48.90 L344.40,50.44 L345.10,52.00 L345.80,53.54 L346.50,55.14 L347.20,56.98 L347.90,58.81 L348.60,60.53 L349.30,62.31 L350.00,64.23 L350.70,66.16 L351.40,67.95 L352.10,69.86 L352.80,71.85 L353.50,73.75 L354.20,75.52 L354.90,77.14 L355.60,79.05 L356.30,81.23 L357.00,83.29 L357.70,85.09 L358.40,86.65 L359.10,87.99 L359.80,89.11 L360.50,90.05 L361.20,90.97 L361.90,91.94 L362.60,92.99 L363.30,94.10 L364.00,95.18 L364.70,96.27 L365.40,97.46 L366.10,98.59 L366.80,99.76 L367.50,101.00 L368.20,102.55 L368.90,104.24 L369.60,105.49 L370.30,106.49 L371.00,107.45 L371.70,108.48 L372.40,109.38 L373.10,109.97 L373.80,110.42 L374.50,110.93 L375.20,111.68 L375.90,112.63 L376.60,113.49 L377.30,114.24 L378.00,115.17 L378.70,116.11 L379.40,116.98 L380.10,117.99 L380.80,118.85 L381.50,119.70 L382.20,120.90 L382.90,121.98 L383.60,122.76 L384.30,123.70 L385.00,124.84 L385.70,125.78 L386.40,126.64 L387.10,127.34 L387.80,127.85 L388.50,128.44 L389.20,129.00 L389.90,129.60 L390.60,130.33 L391.30,131.25 L392.00,132.41 L392.70,133.86 L393.40,135.53 L394.10,137.31 L394.80,138.84 L395.50,139.91 L396.20,140.98 L396.90,142.05 L397.60,142.99 L398.30,143.83 L399.00,144.69 L399.70,145.53 L400.40,145.97 L401.10,146.08 L401.80,146.31 L402.50,146.61 L403.20,146.64 L403.90,146.67 L404.60,146.91 L405.30,147.29 L406.00,147.79 L406.70,148.66 L407.40,149.78 L408.10,150.90 L408.80,152.07 L409.50,153.32 L410.20,154.80 L410.90,156.13 L411.60,157.39 L412.30,158.58 L413.00,159.19 L413.70,159.50 L414.40,159.85 L415.10,160.27 L415.80,160.74 L416.50,161.12 L417.20,161.35 L417.90,161.61 L418.60,161.88 L419.30,162.19 L420.00,162.63 L420.70,162.84 L421.40,162.80 L422.10,162.99 L422.80,163.33 L423.50,163.54 L424.20,163.68 L424.90,163.86 L425.60,164.13 L426.30,164.47 L427.00,164.69 L427.70,164.87 L428.40,165.09 L429.10,165.18 L429.80,165.34 L430.50,165.75 L431.20,166.08 L431.90,166.36 L432.60,166.81 L433.30,167.14 L434.00,167.29 L434.70,167.76 L435.40,168.49 L436.10,168.89 L436.80,168.97 L437.50,169.17 L438.20,169.59 L438.90,169.96 L439.60,170.30 L440.30,170.69 L441.00,170.92 L441.70,171.20 L442.40,171.50 L443.10,171.53 L443.80,171.61 L444.50,171.78 L445.20,171.81 L445.90,171.73 L446.60,171.68 L447.30,171.79 L448.00,172.02 L448.70,171.97 L449.40,171.80 L450.10,171.93 L450.80,172.14 L451.50,172.30 L452.20,172.51 L452.90,172.50 L453.60,172.36 L454.30,172.34 L455.00,172.44 L455.70,172.71 L456.40,173.20 L457.10,173.71 L457.80,173.84 L458.50,173.99 L459.20,174.63 L459.90,175.37" fill="none" stroke="#000000" stroke-width="1.15" stroke-linejoin="round"/>
<rect x="227.5" y="0.5" width="240.0" height="184.0" fill="none" stroke="#000" stroke-width="1"/>
<line x1="227.50" y1="184.5" x2="227.50" y2="188.0" stroke="#000" stroke-width="1"/>
<text x="227.50" y="206" text-anchor="middle">450</text>
<line x1="247.50" y1="184.5" x2="247.50" y2="186.5" stroke="#000" stroke-width="1"/>
<line x1="267.50" y1="184.5" x2="267.50" y2="188.0" stroke="#000" stroke-width="1"/>
<text x="267.50" y="206" text-anchor="middle">500</text>
<line x1="287.50" y1="184.5" x2="287.50" y2="186.5" stroke="#000" stroke-width="1"/>
<line x1="307.50" y1="184.5" x2="307.50" y2="188.0" stroke="#000" stroke-width="1"/>
<text x="307.50" y="206" text-anchor="middle">550</text>
<line x1="327.50" y1="184.5" x2="327.50" y2="186.5" stroke="#000" stroke-width="1"/>
<line x1="347.50" y1="184.5" x2="347.50" y2="188.0" stroke="#000" stroke-width="1"/>
<text x="347.50" y="206" text-anchor="middle">600</text>
<line x1="367.50" y1="184.5" x2="367.50" y2="186.5" stroke="#000" stroke-width="1"/>
<line x1="387.50" y1="184.5" x2="387.50" y2="188.0" stroke="#000" stroke-width="1"/>
<text x="387.50" y="206" text-anchor="middle">650</text>
<line x1="407.50" y1="184.5" x2="407.50" y2="186.5" stroke="#000" stroke-width="1"/>
<line x1="427.50" y1="184.5" x2="427.50" y2="188.0" stroke="#000" stroke-width="1"/>
<text x="427.50" y="206" text-anchor="middle">700</text>
<line x1="447.50" y1="184.5" x2="447.50" y2="186.5" stroke="#000" stroke-width="1"/>
<line x1="467.50" y1="184.5" x2="467.50" y2="188.0" stroke="#000" stroke-width="1"/>
<text x="467.50" y="206" text-anchor="middle">750</text>
<text transform="translate(205.2,13.3) scale(1.0,1.065)" font-weight="bold" font-size="19" fill="#000" style="stroke:#000;stroke-width:0.1px">c</text>
<text transform="translate(216.6,92.2) rotate(-90)" text-anchor="middle">Intensity (a.u.)</text>
<text x="347.4" y="229.5" text-anchor="middle">Wavelength (nm)</text>
<text x="403.7" y="17.1" text-anchor="middle">Propagation</text>
<text x="403.7" y="32.6" text-anchor="middle">distance increasing</text>
<rect x="409" y="42.5" width="42.5" height="90.0" fill="#fff" stroke="#000" stroke-width="1"/>
<line x1="411.6" y1="51.00" x2="435.1" y2="51.00" stroke="#000000" stroke-width="1.2"/>
<text x="439.8" y="55.30">1</text>
<line x1="411.6" y1="66.00" x2="435.1" y2="66.00" stroke="#ff0000" stroke-width="1.2"/>
<text x="439.8" y="70.30">2</text>
<line x1="411.6" y1="81.00" x2="435.1" y2="81.00" stroke="#0000ff" stroke-width="1.2"/>
<text x="439.8" y="85.30">3</text>
<line x1="411.6" y1="96.00" x2="435.1" y2="96.00" stroke="#ff00ff" stroke-width="1.2"/>
<text x="439.8" y="100.30">4</text>
<line x1="411.6" y1="111.00" x2="435.1" y2="111.00" stroke="#119011" stroke-width="1.2"/>
<text x="439.8" y="115.30">5</text>
<line x1="411.6" y1="126.00" x2="435.1" y2="126.00" stroke="#20208e" stroke-width="1.2"/>
<text x="439.8" y="130.30">6</text>
<line x1="393.4" y1="47.4" x2="393.4" y2="100.5" stroke="#000" stroke-width="1"/>
<path d="M391.7,98.5 L395.09999999999997,98.5 L393.4,104.5 Z" fill="#000"/>
<path d="M227.00,420.69 L227.70,420.64 L228.40,420.71 L229.10,420.75 L229.80,420.63 L230.50,420.56 L231.20,420.59 L231.90,420.48 L232.60,420.29 L233.30,420.17 L234.00,420.23 L234.70,420.26 L235.40,420.12 L236.10,420.17 L236.80,420.25 L237.50,420.16 L238.20,420.05 L238.90,420.03 L239.60,420.20 L240.30,420.24 L241.00,419.96 L241.70,419.67 L242.40,419.74 L243.10,420.06 L243.80,420.16 L244.50,420.07 L245.20,419.97 L245.90,419.81 L246.60,419.75 L247.30,419.82 L248.00,419.76 L248.70,419.69 L249.40,419.90 L250.10,419.95 L250.80,419.65 L251.50,419.58 L252.20,419.72 L252.90,419.59 L253.60,419.51 L254.30,419.76 L255.00,419.84 L255.70,419.88 L256.40,420.04 L257.10,419.90 L257.80,419.72 L258.50,419.70 L259.20,419.63 L259.90,419.66 L260.60,419.77 L261.30,419.73 L262.00,419.81 L262.70,420.03 L263.40,420.06 L264.10,419.99 L264.80,419.95 L265.50,419.98 L266.20,420.01 L266.90,420.00 L267.60,419.97 L268.30,419.77 L269.00,419.57 L269.70,419.47 L270.40,419.49 L271.10,419.61 L271.80,419.51 L272.50,419.20 L273.20,418.97 L273.90,418.76 L274.60,418.48 L275.30,418.28 L276.00,418.10 L276.70,417.86 L277.40,417.77 L278.10,417.63 L278.80,417.31 L279.50,416.97 L280.20,416.86 L280.90,416.78 L281.60,416.48 L282.30,416.28 L283.00,415.96 L283.70,415.39 L284.40,415.01 L285.10,414.90 L285.80,414.57 L286.50,413.90 L287.20,413.47 L287.90,413.18 L288.60,412.81 L289.30,412.31 L290.00,411.57 L290.70,410.73 L291.40,410.01 L292.10,409.29 L292.80,408.17 L293.50,407.03 L294.20,406.29 L294.90,405.65 L295.60,404.90 L296.30,403.97 L297.00,403.18 L297.70,402.70 L298.40,402.18 L299.10,401.55 L299.80,401.03 L300.50,400.48 L301.20,399.88 L301.90,399.40 L302.60,398.89 L303.30,398.43 L304.00,398.01 L304.70,397.46 L305.40,397.02 L306.10,396.49 L306.80,395.73 L307.50,395.12 L308.20,394.81 L308.90,394.73 L309.60,394.76 L310.30,394.92 L311.00,395.17 L311.70,395.46 L312.40,395.80 L313.10,396.25 L313.80,396.85 L314.50,397.29 L315.20,397.66 L315.90,398.22 L316.60,398.46 L317.30,398.52 L318.00,398.81 L318.70,399.11 L319.40,399.55 L320.10,399.81 L320.80,399.66 L321.50,399.61 L322.20,399.72 L322.90,399.87 L323.60,400.05 L324.30,400.06 L325.00,400.04 L325.70,400.12 L326.40,400.11 L327.10,400.22 L327.80,400.44 L328.50,400.39 L329.20,400.22 L329.90,400.22 L330.60,400.34 L331.30,400.53 L332.00,400.60 L332.70,400.52 L333.40,400.65 L334.10,400.82 L334.80,400.86 L335.50,400.96 L336.20,401.06 L336.90,401.06 L337.60,401.06 L338.30,401.17 L339.00,401.12 L339.70,400.99 L340.40,401.12 L341.10,401.19 L341.80,401.14 L342.50,401.11 L343.20,401.16 L343.90,401.40 L344.60,401.66 L345.30,401.80 L346.00,401.93 L346.70,402.22 L347.40,402.34 L348.10,402.28 L348.80,402.30 L349.50,402.35 L350.20,402.44 L350.90,402.64 L351.60,402.85 L352.30,402.91 L353.00,402.94 L353.70,403.11 L354.40,403.31 L355.10,403.67 L355.80,404.05 L356.50,404.13 L357.20,404.05 L357.90,404.05 L358.60,404.21 L359.30,404.58 L360.00,405.02 L360.70,405.30 L361.40,405.54 L362.10,405.83 L362.80,406.26 L363.50,406.69 L364.20,406.95 L364.90,407.32 L365.60,407.91 L366.30,408.51 L367.00,408.92 L367.70,409.30 L368.40,409.75 L369.10,410.29 L369.80,411.02 L370.50,411.46 L371.20,411.44 L371.90,411.54 L372.60,411.60 L373.30,411.54 L374.00,411.65 L374.70,411.76 L375.40,411.94 L376.10,412.07 L376.80,411.96 L377.50,412.07 L378.20,412.23 L378.90,412.23 L379.60,412.40 L380.30,412.57 L381.00,412.62 L381.70,412.70 L382.40,412.65 L383.10,412.63 L383.80,413.02 L384.50,413.35 L385.20,413.33 L385.90,413.20 L386.60,413.08 L387.30,413.16 L388.00,413.31 L388.70,413.56 L389.40,413.86 L390.10,413.98 L390.80,414.07 L391.50,414.23 L392.20,414.59 L392.90,414.91 L393.60,415.05 L394.30,415.38 L395.00,415.70 L395.70,415.66 L396.40,415.65 L397.10,415.98 L397.80,416.46 L398.50,416.75 L399.20,416.66 L399.90,416.56 L400.60,416.71 L401.30,416.84 L402.00,416.84 L402.70,416.98 L403.40,416.99 L404.10,416.79 L404.80,416.72 L405.50,416.75 L406.20,416.63 L406.90,416.46 L407.60,416.46 L408.30,416.43 L409.00,416.47 L409.70,416.73 L410.40,416.96 L411.10,417.10 L411.80,417.34 L412.50,417.87 L413.20,418.57 L413.90,419.01 L414.60,419.19 L415.30,419.30 L416.00,419.31 L416.70,419.37 L417.40,419.36 L418.10,419.19 L418.80,419.14 L419.50,419.20 L420.20,419.10 L420.90,419.00 L421.60,419.02 L422.30,419.03 L423.00,419.02 L423.70,418.90 L424.40,418.79 L425.10,418.79 L425.80,418.75 L426.50,418.69 L427.20,418.77 L427.90,418.94 L428.60,419.06 L429.30,418.97 L430.00,418.74 L430.70,418.74 L431.40,418.89 L432.10,418.95 L432.80,418.94 L433.50,419.00 L434.20,419.16 L434.90,419.11 L435.60,419.11 L436.30,419.38 L437.00,419.46 L437.70,419.41 L438.40,419.47 L439.10,419.56 L439.80,419.69 L440.50,419.68 L441.20,419.62 L441.90,419.67 L442.60,419.75 L443.30,419.88 L444.00,419.94 L444.70,419.88 L445.40,419.60 L446.10,419.41 L446.80,419.56 L447.50,419.68 L448.20,419.88 L448.90,420.07 L449.60,419.98 L450.30,419.86 L451.00,419.84 L451.70,419.84 L452.40,419.79 L453.10,419.73 L453.80,419.83 L454.50,420.02 L455.20,420.11 L455.90,420.15 L456.60,420.17 L457.30,420.22 L458.00,420.37 L458.70,420.58 L459.40,420.77 L460.10,420.80 L460.80,420.79 L461.50,420.92" fill="none" stroke="#119011" stroke-width="1.15" stroke-linejoin="round"/>
<path d="M227.00,422.09 L227.70,421.74 L228.40,421.51 L229.10,421.49 L229.80,421.31 L230.50,420.95 L231.20,420.77 L231.90,420.74 L232.60,420.50 L233.30,420.18 L234.00,419.86 L234.70,419.52 L235.40,419.44 L236.10,419.55 L236.80,419.54 L237.50,419.33 L238.20,419.12 L238.90,419.06 L239.60,419.07 L240.30,419.11 L241.00,419.32 L241.70,419.58 L242.40,419.66 L243.10,419.41 L243.80,419.06 L244.50,418.75 L245.20,418.58 L245.90,418.78 L246.60,419.07 L247.30,419.20 L248.00,419.21 L248.70,419.15 L249.40,419.12 L250.10,419.18 L250.80,419.14 L251.50,418.90 L252.20,418.74 L252.90,418.83 L253.60,419.11 L254.30,419.21 L255.00,418.98 L255.70,418.76 L256.40,418.76 L257.10,418.78 L257.80,418.75 L258.50,418.75 L259.20,418.72 L259.90,418.69 L260.60,418.70 L261.30,418.62 L262.00,418.47 L262.70,418.38 L263.40,418.36 L264.10,418.36 L264.80,418.26 L265.50,418.13 L266.20,417.93 L266.90,417.80 L267.60,417.81 L268.30,417.71 L269.00,417.67 L269.70,417.50 L270.40,417.14 L271.10,416.99 L271.80,416.92 L272.50,416.74 L273.20,416.64 L273.90,416.63 L274.60,416.47 L275.30,416.19 L276.00,415.88 L276.70,415.51 L277.40,415.08 L278.10,414.71 L278.80,414.33 L279.50,413.76 L280.20,413.09 L280.90,412.50 L281.60,412.04 L282.30,411.50 L283.00,410.77 L283.70,410.02 L284.40,409.46 L285.10,408.71 L285.80,407.55 L286.50,406.42 L287.20,405.18 L287.90,403.83 L288.60,402.73 L289.30,401.69 L290.00,400.54 L290.70,399.15 L291.40,397.70 L292.10,396.30 L292.80,394.73 L293.50,392.99 L294.20,391.16 L294.90,389.31 L295.60,387.67 L296.30,386.25 L297.00,384.79 L297.70,383.22 L298.40,381.71 L299.10,380.35 L299.80,379.03 L300.50,377.73 L301.20,376.39 L301.90,375.13 L302.60,374.17 L303.30,373.43 L304.00,372.68 L304.70,371.95 L305.40,371.26 L306.10,370.95 L306.80,371.07 L307.50,371.40 L308.20,371.97 L308.90,372.44 L309.60,372.86 L310.30,373.80 L311.00,374.80 L311.70,375.61 L312.40,376.29 L313.10,376.45 L313.80,376.39 L314.50,376.58 L315.20,376.76 L315.90,376.85 L316.60,376.91 L317.30,376.86 L318.00,376.91 L318.70,377.08 L319.40,377.35 L320.10,377.63 L320.80,377.83 L321.50,378.20 L322.20,378.70 L322.90,379.04 L323.60,379.18 L324.30,379.22 L325.00,379.41 L325.70,379.65 L326.40,379.73 L327.10,379.76 L327.80,379.79 L328.50,379.67 L329.20,379.51 L329.90,379.43 L330.60,379.31 L331.30,379.18 L332.00,379.15 L332.70,379.05 L333.40,378.89 L334.10,378.85 L334.80,378.94 L335.50,379.06 L336.20,379.12 L336.90,379.17 L337.60,379.27 L338.30,379.42 L339.00,379.59 L339.70,379.54 L340.40,379.60 L341.10,380.05 L341.80,380.36 L342.50,380.62 L343.20,381.13 L343.90,381.86 L344.60,382.70 L345.30,383.20 L346.00,383.61 L346.70,384.32 L347.40,385.08 L348.10,385.69 L348.80,385.88 L349.50,386.16 L350.20,386.81 L350.90,387.35 L351.60,387.66 L352.30,388.03 L353.00,388.76 L353.70,389.28 L354.40,389.53 L355.10,390.01 L355.80,390.59 L356.50,391.16 L357.20,391.50 L357.90,391.83 L358.60,392.38 L359.30,392.77 L360.00,393.14 L360.70,393.61 L361.40,393.90 L362.10,394.34 L362.80,395.01 L363.50,395.33 L364.20,395.58 L364.90,395.91 L365.60,396.06 L366.30,396.32 L367.00,396.73 L367.70,397.09 L368.40,397.49 L369.10,397.81 L369.80,397.99 L370.50,398.27 L371.20,398.48 L371.90,398.61 L372.60,398.85 L373.30,399.17 L374.00,399.57 L374.70,399.83 L375.40,399.89 L376.10,400.03 L376.80,400.31 L377.50,400.62 L378.20,400.95 L378.90,401.15 L379.60,401.40 L380.30,401.85 L381.00,402.16 L381.70,402.44 L382.40,402.87 L383.10,403.22 L383.80,403.60 L384.50,404.06 L385.20,404.48 L385.90,404.96 L386.60,405.61 L387.30,406.30 L388.00,406.75 L388.70,407.07 L389.40,407.49 L390.10,407.83 L390.80,408.21 L391.50,408.67 L392.20,409.16 L392.90,409.65 L393.60,409.79 L394.30,409.98 L395.00,410.43 L395.70,410.67 L396.40,410.66 L397.10,410.80 L397.80,411.29 L398.50,411.67 L399.20,411.80 L399.90,411.99 L400.60,412.10 L401.30,412.10 L402.00,412.12 L402.70,412.13 L403.40,412.31 L404.10,412.63 L404.80,412.73 L405.50,412.82 L406.20,413.16 L406.90,413.44 L407.60,413.71 L408.30,414.07 L409.00,414.28 L409.70,414.39 L410.40,414.83 L411.10,415.26 L411.80,415.36 L412.50,415.63 L413.20,416.01 L413.90,416.14 L414.60,416.17 L415.30,416.40 L416.00,416.75 L416.70,416.94 L417.40,416.93 L418.10,417.06 L418.80,417.44 L419.50,417.68 L420.20,417.66 L420.90,417.69 L421.60,417.86 L422.30,418.04 L423.00,418.08 L423.70,418.03 L424.40,418.10 L425.10,418.12 L425.80,418.06 L426.50,418.16 L427.20,418.19 L427.90,418.18 L428.60,418.14 L429.30,418.04 L430.00,418.13 L430.70,418.27 L431.40,418.33 L432.10,418.28 L432.80,418.02 L433.50,417.96 L434.20,418.18 L434.90,418.44 L435.60,418.59 L436.30,418.43 L437.00,418.28 L437.70,418.32 L438.40,418.21 L439.10,418.31 L439.80,418.67 L440.50,418.71 L441.20,418.67 L441.90,418.82 L442.60,418.95 L443.30,418.98 L444.00,418.94 L444.70,418.79 L445.40,418.87 L446.10,419.29 L446.80,419.50 L447.50,419.44 L448.20,419.42 L448.90,419.40 L449.60,419.49 L450.30,419.72 L451.00,419.79 L451.70,419.77 L452.40,419.84 L453.10,419.94 L453.80,419.98 L454.50,419.91 L455.20,419.84 L455.90,420.08 L456.60,420.28 L457.30,420.11 L458.00,420.10 L458.70,420.30 L459.40,420.39 L460.10,420.25 L460.80,420.12 L461.50,420.25" fill="none" stroke="#ff00ff" stroke-width="1.15" stroke-linejoin="round"/>
<path d="M227.00,420.30 L227.70,420.30 L228.40,420.39 L229.10,420.38 L229.80,420.56 L230.50,420.72 L231.20,420.51 L231.90,420.19 L232.60,419.95 L233.30,419.79 L234.00,419.73 L234.70,419.68 L235.40,419.61 L236.10,419.60 L236.80,419.58 L237.50,419.42 L238.20,419.26 L238.90,419.30 L239.60,419.44 L240.30,419.51 L241.00,419.54 L241.70,419.46 L242.40,419.29 L243.10,419.14 L243.80,419.11 L244.50,419.31 L245.20,419.26 L245.90,418.89 L246.60,418.72 L247.30,418.65 L248.00,418.47 L248.70,418.49 L249.40,418.65 L250.10,418.56 L250.80,418.47 L251.50,418.43 L252.20,418.29 L252.90,418.22 L253.60,418.11 L254.30,418.04 L255.00,418.02 L255.70,418.04 L256.40,418.10 L257.10,418.07 L257.80,417.99 L258.50,417.82 L259.20,417.68 L259.90,417.50 L260.60,417.41 L261.30,417.57 L262.00,417.55 L262.70,417.43 L263.40,417.43 L264.10,417.33 L264.80,417.27 L265.50,417.30 L266.20,417.11 L266.90,416.95 L267.60,417.07 L268.30,416.99 L269.00,416.65 L269.70,416.36 L270.40,416.11 L271.10,416.04 L271.80,416.00 L272.50,415.68 L273.20,415.24 L273.90,415.04 L274.60,414.84 L275.30,414.30 L276.00,413.84 L276.70,413.55 L277.40,413.06 L278.10,412.44 L278.80,411.77 L279.50,411.08 L280.20,410.50 L280.90,409.97 L281.60,409.37 L282.30,408.72 L283.00,407.96 L283.70,407.09 L284.40,406.11 L285.10,404.97 L285.80,403.90 L286.50,403.02 L287.20,402.06 L287.90,400.97 L288.60,399.74 L289.30,398.33 L290.00,396.95 L290.70,395.63 L291.40,394.15 L292.10,392.58 L292.80,391.05 L293.50,389.38 L294.20,387.60 L294.90,386.00 L295.60,384.26 L296.30,382.24 L297.00,380.37 L297.70,378.55 L298.40,376.49 L299.10,374.49 L299.80,372.75 L300.50,370.78 L301.20,368.65 L301.90,366.75 L302.60,365.02 L303.30,363.40 L304.00,362.16 L304.70,361.11 L305.40,359.85 L306.10,358.81 L306.80,358.22 L307.50,357.80 L308.20,357.51 L308.90,357.43 L309.60,357.60 L310.30,357.85 L311.00,357.94 L311.70,357.92 L312.40,358.10 L313.10,358.49 L313.80,359.24 L314.50,360.51 L315.20,361.87 L315.90,362.77 L316.60,363.38 L317.30,364.07 L318.00,364.64 L318.70,364.95 L319.40,365.15 L320.10,365.53 L320.80,365.88 L321.50,365.96 L322.20,366.12 L322.90,366.49 L323.60,366.62 L324.30,366.33 L325.00,366.14 L325.70,366.29 L326.40,366.54 L327.10,366.79 L327.80,366.96 L328.50,366.95 L329.20,366.97 L329.90,367.06 L330.60,367.13 L331.30,367.24 L332.00,367.53 L332.70,367.89 L333.40,367.86 L334.10,367.63 L334.80,367.66 L335.50,367.77 L336.20,367.84 L336.90,368.03 L337.60,368.36 L338.30,368.66 L339.00,368.79 L339.70,368.87 L340.40,369.19 L341.10,369.82 L341.80,370.68 L342.50,371.63 L343.20,372.58 L343.90,373.47 L344.60,374.46 L345.30,375.34 L346.00,375.96 L346.70,376.47 L347.40,377.23 L348.10,378.24 L348.80,379.04 L349.50,379.61 L350.20,380.17 L350.90,380.69 L351.60,381.21 L352.30,381.87 L353.00,382.59 L353.70,383.13 L354.40,383.55 L355.10,384.07 L355.80,384.65 L356.50,385.07 L357.20,385.52 L357.90,386.12 L358.60,386.51 L359.30,386.90 L360.00,387.46 L360.70,387.84 L361.40,388.13 L362.10,388.46 L362.80,388.76 L363.50,389.05 L364.20,389.53 L364.90,390.10 L365.60,390.53 L366.30,390.99 L367.00,391.39 L367.70,391.76 L368.40,392.31 L369.10,392.87 L369.80,393.45 L370.50,393.97 L371.20,394.34 L371.90,394.66 L372.60,395.03 L373.30,395.50 L374.00,395.92 L374.70,396.27 L375.40,396.72 L376.10,397.21 L376.80,397.70 L377.50,398.12 L378.20,398.45 L378.90,398.90 L379.60,399.36 L380.30,399.67 L381.00,400.25 L381.70,400.78 L382.40,400.97 L383.10,401.51 L383.80,402.12 L384.50,402.62 L385.20,403.12 L385.90,403.40 L386.60,403.99 L387.30,404.59 L388.00,404.81 L388.70,405.00 L389.40,405.25 L390.10,405.55 L390.80,405.87 L391.50,406.09 L392.20,406.45 L392.90,406.83 L393.60,406.99 L394.30,407.29 L395.00,407.63 L395.70,407.96 L396.40,408.49 L397.10,408.81 L397.80,409.02 L398.50,409.44 L399.20,409.83 L399.90,410.21 L400.60,410.60 L401.30,410.94 L402.00,411.23 L402.70,411.42 L403.40,411.63 L404.10,411.82 L404.80,411.92 L405.50,411.95 L406.20,411.98 L406.90,412.17 L407.60,412.56 L408.30,413.00 L409.00,413.36 L409.70,413.52 L410.40,413.57 L411.10,413.76 L411.80,414.06 L412.50,414.42 L413.20,414.82 L413.90,415.02 L414.60,415.09 L415.30,415.47 L416.00,416.01 L416.70,416.31 L417.40,416.57 L418.10,416.86 L418.80,416.93 L419.50,416.92 L420.20,416.84 L420.90,416.85 L421.60,417.00 L422.30,416.97 L423.00,416.93 L423.70,417.05 L424.40,417.20 L425.10,417.23 L425.80,417.13 L426.50,417.11 L427.20,417.23 L427.90,417.40 L428.60,417.68 L429.30,417.91 L430.00,418.12 L430.70,418.37 L431.40,418.39 L432.10,418.31 L432.80,418.23 L433.50,418.20 L434.20,418.27 L434.90,418.13 L435.60,417.90 L436.30,417.93 L437.00,417.95 L437.70,417.87 L438.40,417.67 L439.10,417.40 L439.80,417.50 L440.50,417.83 L441.20,417.81 L441.90,417.74 L442.60,417.96 L443.30,418.05 L444.00,417.96 L444.70,418.01 L445.40,418.32 L446.10,418.69 L446.80,418.84 L447.50,418.90 L448.20,419.03 L448.90,419.00 L449.60,418.84 L450.30,418.92 L451.00,418.99 L451.70,419.01 L452.40,419.15 L453.10,419.30 L453.80,419.31 L454.50,419.29 L455.20,419.57 L455.90,419.84 L456.60,419.66 L457.30,419.60 L458.00,419.92 L458.70,420.17 L459.40,420.18 L460.10,420.21 L460.80,420.37 L461.50,420.43" fill="none" stroke="#0000ff" stroke-width="1.15" stroke-linejoin="round"/>
<path d="M227.00,420.02 L227.70,420.00 L228.40,420.10 L229.10,420.18 L229.80,420.13 L230.50,420.05 L231.20,420.03 L231.90,419.97 L232.60,419.82 L233.30,419.51 L234.00,419.43 L234.70,419.52 L235.40,419.40 L236.10,419.34 L236.80,419.35 L237.50,419.24 L238.20,419.27 L238.90,419.18 L239.60,418.95 L240.30,419.14 L241.00,419.31 L241.70,419.04 L242.40,418.86 L243.10,418.94 L243.80,418.85 L244.50,418.54 L245.20,418.41 L245.90,418.42 L246.60,418.39 L247.30,418.33 L248.00,418.22 L248.70,418.05 L249.40,417.91 L250.10,417.76 L250.80,417.66 L251.50,417.64 L252.20,417.51 L252.90,417.46 L253.60,417.53 L254.30,417.31 L255.00,417.10 L255.70,417.11 L256.40,417.01 L257.10,416.91 L257.80,416.82 L258.50,416.70 L259.20,416.54 L259.90,416.35 L260.60,416.38 L261.30,416.27 L262.00,415.86 L262.70,415.76 L263.40,415.71 L264.10,415.38 L264.80,415.31 L265.50,415.41 L266.20,415.30 L266.90,415.18 L267.60,414.94 L268.30,414.62 L269.00,414.44 L269.70,414.30 L270.40,414.10 L271.10,413.76 L271.80,413.40 L272.50,413.16 L273.20,412.94 L273.90,412.48 L274.60,411.82 L275.30,411.28 L276.00,410.73 L276.70,409.95 L277.40,409.06 L278.10,408.14 L278.80,407.24 L279.50,406.35 L280.20,405.28 L280.90,404.09 L281.60,402.65 L282.30,400.98 L283.00,399.19 L283.70,397.01 L284.40,394.55 L285.10,391.99 L285.80,389.51 L286.50,387.31 L287.20,385.01 L287.90,382.28 L288.60,379.29 L289.30,376.38 L290.00,373.36 L290.70,370.13 L291.40,366.95 L292.10,363.99 L292.80,361.03 L293.50,357.92 L294.20,354.64 L294.90,351.39 L295.60,348.38 L296.30,345.18 L297.00,341.82 L297.70,338.56 L298.40,335.37 L299.10,332.27 L299.80,329.38 L300.50,326.93 L301.20,324.91 L301.90,322.97 L302.60,321.10 L303.30,319.33 L304.00,317.92 L304.70,317.03 L305.40,316.73 L306.10,316.72 L306.80,316.84 L307.50,316.66 L308.20,316.36 L308.90,316.33 L309.60,316.91 L310.30,317.86 L311.00,318.73 L311.70,319.42 L312.40,320.13 L313.10,320.87 L313.80,321.76 L314.50,322.84 L315.20,323.89 L315.90,324.77 L316.60,325.37 L317.30,326.14 L318.00,327.07 L318.70,327.75 L319.40,328.38 L320.10,329.20 L320.80,330.09 L321.50,330.82 L322.20,331.51 L322.90,332.27 L323.60,332.91 L324.30,333.39 L325.00,333.80 L325.70,334.22 L326.40,334.65 L327.10,334.94 L327.80,335.10 L328.50,335.22 L329.20,335.25 L329.90,335.24 L330.60,335.49 L331.30,335.88 L332.00,336.21 L332.70,336.45 L333.40,336.59 L334.10,336.84 L334.80,337.15 L335.50,337.28 L336.20,337.35 L336.90,337.63 L337.60,337.99 L338.30,338.41 L339.00,339.17 L339.70,339.96 L340.40,340.77 L341.10,341.70 L341.80,342.46 L342.50,343.33 L343.20,344.41 L343.90,345.61 L344.60,346.92 L345.30,348.27 L346.00,349.57 L346.70,350.67 L347.40,351.64 L348.10,352.56 L348.80,353.52 L349.50,354.64 L350.20,355.80 L350.90,356.96 L351.60,358.08 L352.30,359.18 L353.00,360.17 L353.70,361.05 L354.40,361.93 L355.10,362.84 L355.80,363.83 L356.50,364.70 L357.20,365.50 L357.90,366.60 L358.60,367.69 L359.30,368.41 L360.00,369.15 L360.70,370.00 L361.40,371.02 L362.10,372.19 L362.80,373.17 L363.50,374.15 L364.20,375.28 L364.90,376.07 L365.60,376.62 L366.30,377.42 L367.00,378.27 L367.70,379.00 L368.40,379.73 L369.10,380.52 L369.80,381.33 L370.50,381.97 L371.20,382.56 L371.90,383.22 L372.60,383.74 L373.30,384.13 L374.00,384.59 L374.70,385.05 L375.40,385.27 L376.10,385.38 L376.80,385.57 L377.50,385.83 L378.20,386.14 L378.90,386.58 L379.60,386.88 L380.30,387.13 L381.00,387.74 L381.70,388.49 L382.40,389.14 L383.10,389.96 L383.80,390.98 L384.50,391.80 L385.20,392.56 L385.90,393.48 L386.60,394.46 L387.30,395.27 L388.00,395.80 L388.70,396.05 L389.40,396.25 L390.10,396.58 L390.80,396.99 L391.50,397.33 L392.20,397.68 L392.90,398.28 L393.60,398.89 L394.30,399.39 L395.00,399.90 L395.70,400.34 L396.40,400.86 L397.10,401.68 L397.80,402.57 L398.50,403.20 L399.20,403.70 L399.90,404.28 L400.60,404.83 L401.30,405.43 L402.00,405.93 L402.70,406.39 L403.40,406.91 L404.10,407.18 L404.80,407.29 L405.50,407.38 L406.20,407.54 L406.90,407.60 L407.60,407.56 L408.30,407.63 L409.00,407.73 L409.70,407.59 L410.40,407.59 L411.10,408.04 L411.80,408.46 L412.50,408.67 L413.20,408.94 L413.90,409.58 L414.60,410.31 L415.30,410.89 L416.00,411.26 L416.70,411.46 L417.40,411.79 L418.10,412.21 L418.80,412.60 L419.50,412.92 L420.20,413.16 L420.90,413.26 L421.60,413.35 L422.30,413.63 L423.00,413.92 L423.70,414.29 L424.40,414.82 L425.10,415.17 L425.80,415.23 L426.50,415.30 L427.20,415.52 L427.90,415.83 L428.60,416.13 L429.30,416.23 L430.00,416.16 L430.70,415.93 L431.40,415.67 L432.10,415.58 L432.80,415.56 L433.50,415.54 L434.20,415.36 L434.90,415.08 L435.60,415.03 L436.30,415.00 L437.00,414.70 L437.70,414.53 L438.40,414.57 L439.10,414.65 L439.80,414.87 L440.50,415.29 L441.20,415.53 L441.90,415.54 L442.60,415.82 L443.30,416.18 L444.00,416.38 L444.70,416.54 L445.40,416.79 L446.10,417.05 L446.80,417.16 L447.50,417.31 L448.20,417.53 L448.90,417.71 L449.60,417.92 L450.30,418.15 L451.00,418.25 L451.70,418.34 L452.40,418.40 L453.10,418.41 L453.80,418.49 L454.50,418.68 L455.20,418.89 L455.90,418.95 L456.60,419.05 L457.30,419.32 L458.00,419.40 L458.70,419.45 L459.40,419.73 L460.10,419.82 L460.80,419.86 L461.50,420.01" fill="none" stroke="#ff0000" stroke-width="1.15" stroke-linejoin="round"/>
<path d="M227.00,420.17 L227.70,420.15 L228.40,420.13 L229.10,419.84 L229.80,419.70 L230.50,419.64 L231.20,419.39 L231.90,419.31 L232.60,419.43 L233.30,419.39 L234.00,419.03 L234.70,418.85 L235.40,418.84 L236.10,418.60 L236.80,418.38 L237.50,418.36 L238.20,418.32 L238.90,418.27 L239.60,418.24 L240.30,418.11 L241.00,417.89 L241.70,417.63 L242.40,417.38 L243.10,417.31 L243.80,417.25 L244.50,417.10 L245.20,416.94 L245.90,416.88 L246.60,417.03 L247.30,416.98 L248.00,416.63 L248.70,416.41 L249.40,416.35 L250.10,416.33 L250.80,416.18 L251.50,415.94 L252.20,415.78 L252.90,415.60 L253.60,415.46 L254.30,415.38 L255.00,415.26 L255.70,415.16 L256.40,415.11 L257.10,414.99 L257.80,414.82 L258.50,414.61 L259.20,414.36 L259.90,414.22 L260.60,414.08 L261.30,413.91 L262.00,413.82 L262.70,413.57 L263.40,413.23 L264.10,413.05 L264.80,412.95 L265.50,412.77 L266.20,412.39 L266.90,412.03 L267.60,411.97 L268.30,411.88 L269.00,411.52 L269.70,411.15 L270.40,410.70 L271.10,410.14 L271.80,409.76 L272.50,409.30 L273.20,408.63 L273.90,407.87 L274.60,406.96 L275.30,406.00 L276.00,405.06 L276.70,404.16 L277.40,403.02 L278.10,401.42 L278.80,399.59 L279.50,397.66 L280.20,395.79 L280.90,393.87 L281.60,391.59 L282.30,389.23 L283.00,386.83 L283.70,384.28 L284.40,381.37 L285.10,378.04 L285.80,374.84 L286.50,371.24 L287.20,366.89 L287.90,362.47 L288.60,358.27 L289.30,354.07 L290.00,349.61 L290.70,345.34 L291.40,341.43 L292.10,337.25 L292.80,332.50 L293.50,327.89 L294.20,323.75 L294.90,319.51 L295.60,315.19 L296.30,310.84 L297.00,306.41 L297.70,302.16 L298.40,298.19 L299.10,294.17 L299.80,290.13 L300.50,286.67 L301.20,283.67 L301.90,280.68 L302.60,278.16 L303.30,276.14 L304.00,274.35 L304.70,272.79 L305.40,271.54 L306.10,270.35 L306.80,269.34 L307.50,268.55 L308.20,268.05 L308.90,268.05 L309.60,268.48 L310.30,269.07 L311.00,269.56 L311.70,270.04 L312.40,270.67 L313.10,271.41 L313.80,272.21 L314.50,273.07 L315.20,274.03 L315.90,274.88 L316.60,275.69 L317.30,276.79 L318.00,278.11 L318.70,279.32 L319.40,280.31 L320.10,281.17 L320.80,282.15 L321.50,283.37 L322.20,284.47 L322.90,285.24 L323.60,285.96 L324.30,286.80 L325.00,287.53 L325.70,288.22 L326.40,288.89 L327.10,289.42 L327.80,289.89 L328.50,290.34 L329.20,290.78 L329.90,291.21 L330.60,291.62 L331.30,291.91 L332.00,292.06 L332.70,292.08 L333.40,292.10 L334.10,292.26 L334.80,292.51 L335.50,292.99 L336.20,293.61 L336.90,294.31 L337.60,295.22 L338.30,296.15 L339.00,297.17 L339.70,298.41 L340.40,299.59 L341.10,300.56 L341.80,301.51 L342.50,302.68 L343.20,304.13 L343.90,305.51 L344.60,306.85 L345.30,308.53 L346.00,310.13 L346.70,311.54 L347.40,313.05 L348.10,314.74 L348.80,316.45 L349.50,318.10 L350.20,320.12 L350.90,322.33 L351.60,324.24 L352.30,326.07 L353.00,327.79 L353.70,329.41 L354.40,331.21 L355.10,332.87 L355.80,334.37 L356.50,335.97 L357.20,337.51 L357.90,338.67 L358.60,339.58 L359.30,340.61 L360.00,341.83 L360.70,343.13 L361.40,344.21 L362.10,344.99 L362.80,345.63 L363.50,346.40 L364.20,347.37 L364.90,348.26 L365.60,349.09 L366.30,350.05 L367.00,351.01 L367.70,351.78 L368.40,352.42 L369.10,353.25 L369.80,354.42 L370.50,355.60 L371.20,356.69 L371.90,357.99 L372.60,359.60 L373.30,361.37 L374.00,363.02 L374.70,364.44 L375.40,365.62 L376.10,366.58 L376.80,367.36 L377.50,367.88 L378.20,368.39 L378.90,369.09 L379.60,369.75 L380.30,370.26 L381.00,370.72 L381.70,371.04 L382.40,371.24 L383.10,371.50 L383.80,372.01 L384.50,372.63 L385.20,373.08 L385.90,373.59 L386.60,374.27 L387.30,375.21 L388.00,376.45 L388.70,377.92 L389.40,379.38 L390.10,380.62 L390.80,381.62 L391.50,382.49 L392.20,383.31 L392.90,384.15 L393.60,385.06 L394.30,385.88 L395.00,386.52 L395.70,387.44 L396.40,388.39 L397.10,388.81 L397.80,389.27 L398.50,390.13 L399.20,391.02 L399.90,391.81 L400.60,392.74 L401.30,393.69 L402.00,394.81 L402.70,395.94 L403.40,396.55 L404.10,397.06 L404.80,397.83 L405.50,398.67 L406.20,399.45 L406.90,400.13 L407.60,400.62 L408.30,401.13 L409.00,401.83 L409.70,402.42 L410.40,402.84 L411.10,403.27 L411.80,403.80 L412.50,404.38 L413.20,404.85 L413.90,405.31 L414.60,405.96 L415.30,406.55 L416.00,406.98 L416.70,407.42 L417.40,407.89 L418.10,408.09 L418.80,407.98 L419.50,408.00 L420.20,408.08 L420.90,408.26 L421.60,408.44 L422.30,408.43 L423.00,408.44 L423.70,408.69 L424.40,409.16 L425.10,409.54 L425.80,409.71 L426.50,409.80 L427.20,410.16 L427.90,410.69 L428.60,410.99 L429.30,411.29 L430.00,411.61 L430.70,411.93 L431.40,412.38 L432.10,412.75 L432.80,412.98 L433.50,413.18 L434.20,413.39 L434.90,413.61 L435.60,413.93 L436.30,414.21 L437.00,414.32 L437.70,414.42 L438.40,414.34 L439.10,414.29 L439.80,414.60 L440.50,414.83 L441.20,414.91 L441.90,414.94 L442.60,414.95 L443.30,415.18 L444.00,415.54 L444.70,415.70 L445.40,415.59 L446.10,415.69 L446.80,415.94 L447.50,416.12 L448.20,416.36 L448.90,416.38 L449.60,416.40 L450.30,416.77 L451.00,416.91 L451.70,416.86 L452.40,417.01 L453.10,417.14 L453.80,417.16 L454.50,416.99 L455.20,416.88 L455.90,417.12 L456.60,417.40 L457.30,417.57 L458.00,417.55 L458.70,417.35 L459.40,417.16 L460.10,417.09 L460.80,417.08 L461.50,417.08" fill="none" stroke="#000000" stroke-width="1.15" stroke-linejoin="round"/>
<rect x="227" y="248" width="243" height="177.5" fill="none" stroke="#000" stroke-width="1"/>
<line x1="227.00" y1="425.5" x2="227.00" y2="429.0" stroke="#000" stroke-width="1"/>
<text x="227.00" y="445.1" text-anchor="middle">450</text>
<line x1="247.25" y1="425.5" x2="247.25" y2="427.5" stroke="#000" stroke-width="1"/>
<line x1="267.50" y1="425.5" x2="267.50" y2="429.0" stroke="#000" stroke-width="1"/>
<text x="267.50" y="445.1" text-anchor="middle">500</text>
<line x1="287.75" y1="425.5" x2="287.75" y2="427.5" stroke="#000" stroke-width="1"/>
<line x1="308.00" y1="425.5" x2="308.00" y2="429.0" stroke="#000" stroke-width="1"/>
<text x="308.00" y="445.1" text-anchor="middle">550</text>
<line x1="328.25" y1="425.5" x2="328.25" y2="427.5" stroke="#000" stroke-width="1"/>
<line x1="348.50" y1="425.5" x2="348.50" y2="429.0" stroke="#000" stroke-width="1"/>
<text x="348.50" y="445.1" text-anchor="middle">600</text>
<line x1="368.75" y1="425.5" x2="368.75" y2="427.5" stroke="#000" stroke-width="1"/>
<line x1="389.00" y1="425.5" x2="389.00" y2="429.0" stroke="#000" stroke-width="1"/>
<text x="389.00" y="445.1" text-anchor="middle">650</text>
<line x1="409.25" y1="425.5" x2="409.25" y2="427.5" stroke="#000" stroke-width="1"/>
<line x1="429.50" y1="425.5" x2="429.50" y2="429.0" stroke="#000" stroke-width="1"/>
<text x="429.50" y="445.1" text-anchor="middle">700</text>
<line x1="449.75" y1="425.5" x2="449.75" y2="427.5" stroke="#000" stroke-width="1"/>
<line x1="470.00" y1="425.5" x2="470.00" y2="429.0" stroke="#000" stroke-width="1"/>
<text x="470.00" y="445.1" text-anchor="middle">750</text>
<text transform="translate(205.6,260.2) scale(1.0,1.065)" font-weight="bold" font-size="19" fill="#000" style="stroke:#000;stroke-width:0.1px">d</text>
<text transform="translate(216.8,345.8) rotate(-90)" text-anchor="middle">Intensity (a.u.)</text>
<text x="348.7" y="464.9" text-anchor="middle">Wavelength (nm)</text>
<text x="407" y="267.1" text-anchor="middle">Propagation</text>
<text x="407" y="282.6" text-anchor="middle">distance increasing</text>
<rect x="407" y="292.5" width="42.5" height="75.0" fill="#fff" stroke="#000" stroke-width="1"/>
<line x1="410" y1="301.00" x2="433.5" y2="301.00" stroke="#000000" stroke-width="1.2"/>
<text x="437.9" y="305.30">1</text>
<line x1="410" y1="316.00" x2="433.5" y2="316.00" stroke="#ff0000" stroke-width="1.2"/>
<text x="437.9" y="320.30">2</text>
<line x1="410" y1="331.00" x2="433.5" y2="331.00" stroke="#0000ff" stroke-width="1.2"/>
<text x="437.9" y="335.30">3</text>
<line x1="410" y1="346.00" x2="433.5" y2="346.00" stroke="#ff00ff" stroke-width="1.2"/>
<text x="437.9" y="350.30">4</text>
<line x1="410" y1="361.00" x2="433.5" y2="361.00" stroke="#119011" stroke-width="1.2"/>
<text x="437.9" y="365.30">5</text>
<line x1="396.2" y1="293" x2="396.2" y2="344.5" stroke="#000" stroke-width="1"/>
<path d="M394.5,342.5 L397.9,342.5 L396.2,348.5 Z" fill="#000"/>
<rect x="510" y="95.5" width="174.5" height="65.69999999999999" fill="#fbe5d6"/>
<text transform="translate(507.4,79.8) scale(0.97,1.07)" font-weight="bold" font-size="19" fill="#000" style="stroke:#000;stroke-width:0.1px">e</text>
<line x1="510" y1="95.5" x2="684.5" y2="95.5" stroke="#222" stroke-width="1"/>
<line x1="510" y1="161.2" x2="684.5" y2="161.2" stroke="#222" stroke-width="1.1"/>
<line x1="510" y1="214.25" x2="684.5" y2="214.25" stroke="#222" stroke-width="1.1"/>
<line x1="510" y1="267.3" x2="684.5" y2="267.3" stroke="#222" stroke-width="1.1"/>
<line x1="510" y1="320.35" x2="684.5" y2="320.35" stroke="#222" stroke-width="1.1"/>
<line x1="510" y1="373.4" x2="684.5" y2="373.4" stroke="#222" stroke-width="1.1"/>
<line x1="510" y1="95.5" x2="510" y2="373.4" stroke="#111" stroke-width="1"/>
<line x1="585.5" y1="95.5" x2="585.5" y2="373.4" stroke="#111" stroke-width="1"/>
<line x1="684.5" y1="95.5" x2="684.5" y2="373.4" stroke="#111" stroke-width="1"/>
<text x="547.2" y="133.4" text-anchor="middle">Direction</text>
<text x="634.8" y="115.8" text-anchor="middle">Optical loss</text>
<text x="634.8" y="131.8" text-anchor="middle">coefficient</text>
<text x="634.8" y="147.4" text-anchor="middle">(dB µm<tspan font-size="9" dy="-5">−1</tspan><tspan dy="5">)</tspan></text>
<text x="547.2" y="193.03" text-anchor="middle">[100]</text>
<text x="634.8" y="193.03" text-anchor="middle">0.0181</text>
<text x="547.2" y="246.08" text-anchor="middle">[001]</text>
<text x="634.8" y="246.08" text-anchor="middle">0.0084</text>
<text x="547.2" y="299.13" text-anchor="middle">[012]</text>
<text x="634.8" y="299.13" text-anchor="middle">0.0139</text>
<text x="547.2" y="352.18" text-anchor="middle">[01<tspan text-decoration="overline">2</tspan>]</text>
<text x="634.8" y="352.18" text-anchor="middle">0.0147</text>
</svg>
</body></html>
